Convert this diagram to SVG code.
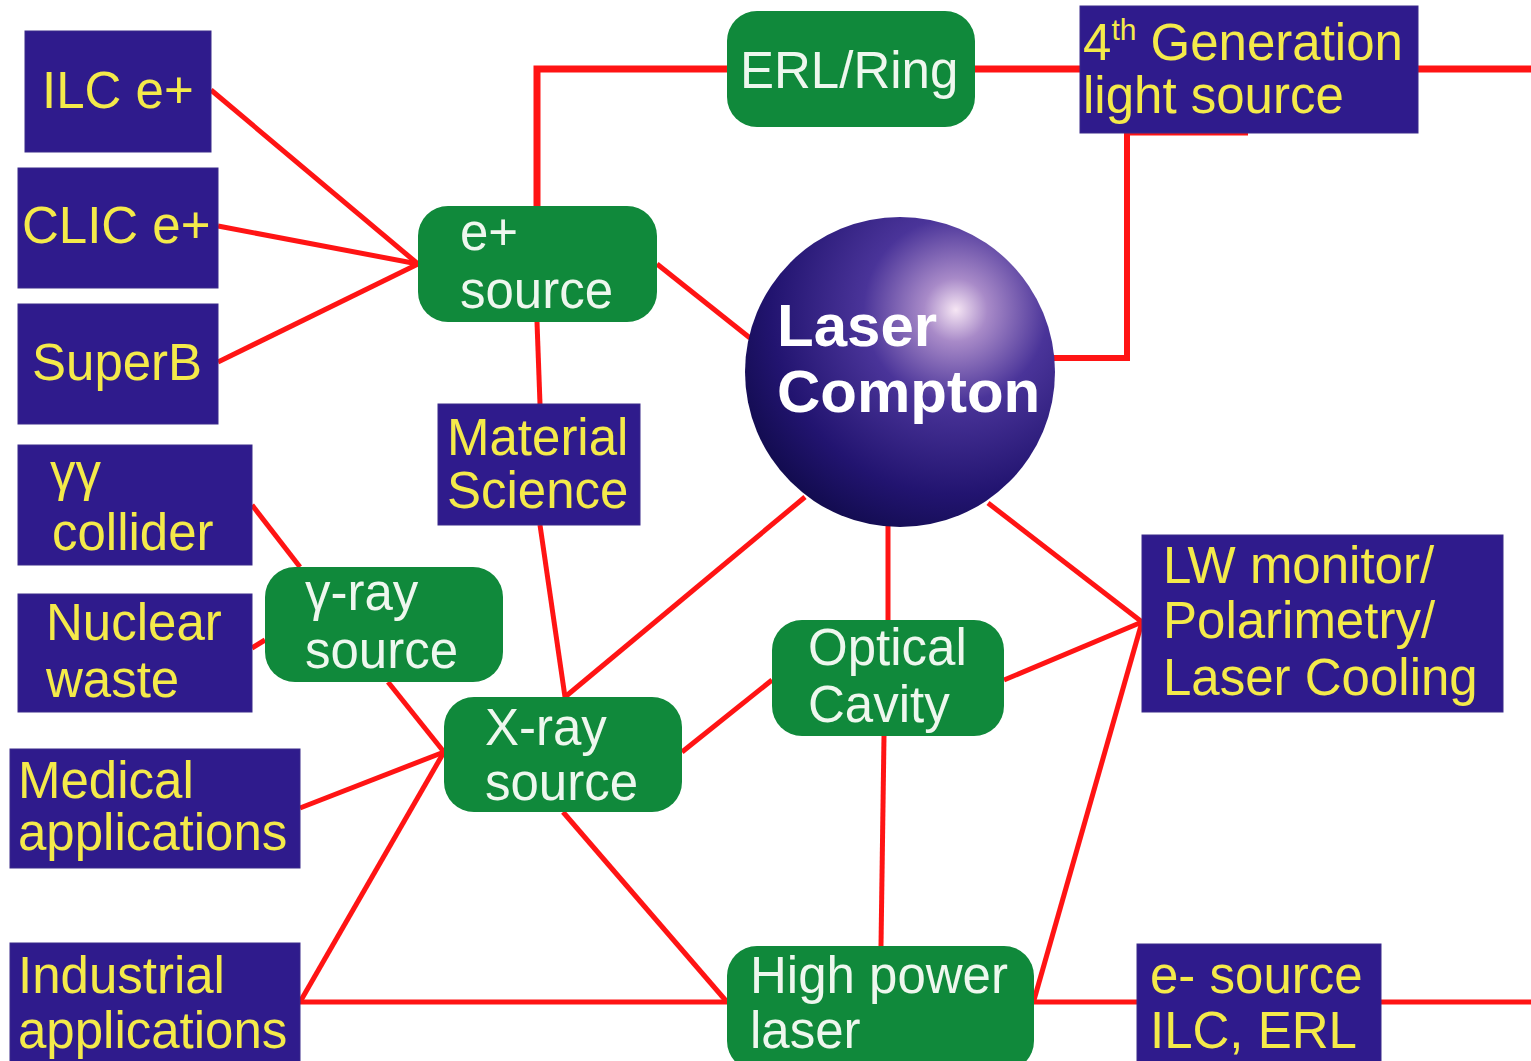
<svg xmlns="http://www.w3.org/2000/svg" width="1531" height="1061" viewBox="0 0 1531 1061">
<style>
.box{fill:#2f1b8c;stroke:#3a2a8a;stroke-width:1}
.gr{fill:#10893b}
.yt{font-family:"Liberation Sans",Arial,sans-serif;font-size:51px;fill:#f4ea4a}
.wt{font-family:"Liberation Sans",Arial,sans-serif;font-size:51px;fill:#eef7ee}
.ct{font-family:"Liberation Sans",Arial,sans-serif;font-size:60px;font-weight:bold;fill:#ffffff}
#edges path,#edges line{stroke:#ff1414;fill:none;stroke-width:5;stroke-linejoin:miter}
</style>
<defs>
<radialGradient id="sph" cx="0.68" cy="0.3" r="0.85" fx="0.68" fy="0.3">
<stop offset="0" stop-color="#f6e6f4"/>
<stop offset="0.12" stop-color="#a88ac8"/>
<stop offset="0.35" stop-color="#4a3499"/>
<stop offset="0.7" stop-color="#221470"/>
<stop offset="1" stop-color="#0b0840"/>
</radialGradient>
</defs>
<rect width="1531" height="1061" fill="#ffffff"/>
<g id="edges">
<path d="M537,206 V69 H727" style="stroke-width:7"/>
<line x1="975" y1="69" x2="1080" y2="69" style="stroke-width:7"/>
<line x1="1418" y1="69" x2="1531" y2="69" style="stroke-width:7"/>
<path d="M1045,358 H1127 V133" style="stroke-width:6"/>
<line x1="1127" y1="134" x2="1248" y2="134" style="stroke-width:3"/>
<line x1="211" y1="90" x2="418" y2="264"/>
<line x1="218" y1="226" x2="418" y2="264"/>
<line x1="218" y1="362" x2="418" y2="264"/>
<line x1="657" y1="264" x2="750" y2="338"/>
<line x1="537" y1="322" x2="540" y2="404"/>
<line x1="540" y1="525" x2="565" y2="697"/>
<line x1="805" y1="497" x2="565" y2="697"/>
<line x1="888" y1="525" x2="888" y2="620"/>
<line x1="988" y1="503" x2="1142" y2="622"/>
<line x1="1004" y1="680" x2="1142" y2="622"/>
<line x1="1142" y1="622" x2="1034" y2="1000"/>
<line x1="884" y1="736" x2="881" y2="946"/>
<line x1="682" y1="752" x2="772" y2="680"/>
<line x1="563" y1="812" x2="727" y2="1002"/>
<line x1="300" y1="1002" x2="727" y2="1002"/>
<line x1="300" y1="1002" x2="444" y2="752"/>
<line x1="300" y1="808" x2="444" y2="752"/>
<line x1="388" y1="682" x2="444" y2="752"/>
<line x1="252" y1="505" x2="300" y2="567"/>
<line x1="252" y1="648" x2="265" y2="640"/>
<line x1="1034" y1="1002" x2="1137" y2="1002"/>
<line x1="1381" y1="1002" x2="1531" y2="1002"/>
</g>
<g id="ilc"><rect class="box" x="25" y="31" width="186" height="121"/><text class="yt" x="42" y="108">ILC e+</text></g>
<g id="clic"><rect class="box" x="18" y="168" width="200" height="120"/><text class="yt" x="22" y="243">CLIC e+</text></g>
<g id="superb"><rect class="box" x="18" y="304" width="200" height="120"/><text class="yt" x="32" y="380">SuperB</text></g>
<g id="gg"><rect class="box" x="18" y="445" width="234" height="120"/><text class="yt" x="50" y="490" font-size="46">γγ</text><text class="yt" x="52" y="550">collider</text></g>
<g id="nuclear"><rect class="box" x="18" y="594" width="234" height="118"/><text class="yt" x="46" y="640">Nuclear</text><text class="yt" x="46" y="697">waste</text></g>
<g id="medical"><rect class="box" x="10" y="749" width="290" height="119"/><text class="yt" x="18" y="798">Medical</text><text class="yt" x="18" y="850">applications</text></g>
<g id="industrial"><rect class="box" x="10" y="943" width="290" height="125"/><text class="yt" x="18" y="993">Industrial</text><text class="yt" x="18" y="1048">applications</text></g>
<g id="material"><rect class="box" x="438" y="404" width="202" height="121"/><text class="yt" x="447" y="455">Material</text><text class="yt" x="447" y="508">Science</text></g>
<g id="gen4"><rect class="box" x="1080" y="6" width="338" height="127"/><text class="yt" x="1083" y="60">4<tspan font-size="30" dy="-20">th</tspan><tspan dy="20"> Generation</tspan></text><text class="yt" x="1083" y="113">light source</text></g>
<g id="lw"><rect class="box" x="1142" y="535" width="361" height="177"/><text class="yt" x="1163" y="583">LW monitor/</text><text class="yt" x="1163" y="638">Polarimetry/</text><text class="yt" x="1163" y="695">Laser Cooling</text></g>
<g id="esource"><rect class="box" x="1137" y="944" width="244" height="124"/><text class="yt" x="1150" y="993">e- source</text><text class="yt" x="1150" y="1048">ILC, ERL</text></g>
<g id="erl"><rect class="gr" x="727" y="11" width="248" height="116" rx="30"/><text class="wt" x="740" y="88">ERL/Ring</text></g>
<g id="epsource"><rect class="gr" x="418" y="206" width="239" height="116" rx="30"/><text class="wt" x="460" y="250">e+</text><text class="wt" x="460" y="308">source</text></g>
<g id="gray"><rect class="gr" x="265" y="567" width="238" height="115" rx="30"/><text class="wt" x="305" y="610">γ-ray</text><text class="wt" x="305" y="668">source</text></g>
<g id="xray"><rect class="gr" x="444" y="697" width="238" height="115" rx="30"/><text class="wt" x="485" y="745">X-ray</text><text class="wt" x="485" y="800">source</text></g>
<g id="optical"><rect class="gr" x="772" y="620" width="232" height="116" rx="30"/><text class="wt" x="808" y="665">Optical</text><text class="wt" x="808" y="722">Cavity</text></g>
<g id="hpl"><rect class="gr" x="727" y="946" width="307" height="125" rx="30"/><text class="wt" x="750" y="993">High power</text><text class="wt" x="750" y="1048">laser</text></g>
<g id="compton"><circle cx="900" cy="372" r="155" fill="url(#sph)"/><text class="ct" x="777" y="346">Laser</text><text class="ct" x="777" y="412">Compton</text></g>
</svg>
